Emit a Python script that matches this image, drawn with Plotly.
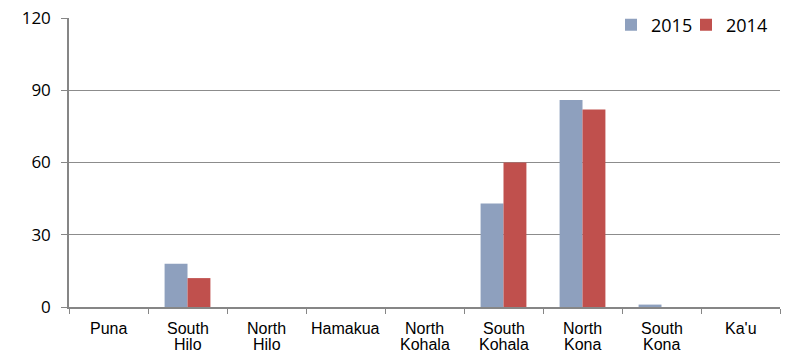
import plotly.graph_objects as go

categories = ["Puna", "South Hilo", "North Hilo", "Hamakua", "North Kohala",
              "South Kohala", "North Kona", "South Kona", "Ka'u"]
values_2015 = [0, 18, 0, 0, 0, 43, 86, 1, 0]
values_2014 = [0, 12, 0, 0, 0, 60, 82, 0, 0]
y_ticks = [0, 30, 60, 90, 120]

fig = go.Figure()
fig.add_trace(go.Bar(x=categories, y=values_2015, name="2015", legend="legend",
                     marker=dict(color="#8EA0BE", line=dict(width=0))))
fig.add_trace(go.Bar(x=categories, y=values_2014, name="2014", legend="legend2",
                     marker=dict(color="#C0504D", line=dict(width=0))))

# category labels, one line per word, with tight (Excel-like) line spacing
for cat in categories:
    for i, word in enumerate(cat.split(" ")):
        fig.add_annotation(x=cat, xref="x", y=0, yref="paper", yanchor="top",
                           yshift=-11 - 16 * i, text=word, showarrow=False,
                           font=dict(family="Liberation Sans", size=16, color="#000"))

legend_style = dict(orientation="h", xanchor="left", y=1.04, yanchor="top",
                    font=dict(family="Open Sans", size=18, color="#000"),
                    itemwidth=30, bgcolor="rgba(0,0,0,0)")

fig.update_layout(
    width=786, height=352,
    margin=dict(l=69, r=6, t=15, b=45),
    plot_bgcolor="white", paper_bgcolor="white",
    barmode="group", bargap=0.42, bargroupgap=0,
    font=dict(family="Liberation Sans, Arial", size=14, color="#000000"),
    showlegend=True,
    legend=dict(x=(611 - 69) / 711, **legend_style),
    legend2=dict(x=(686 - 69) / 711, **legend_style),
    xaxis=dict(showline=True, linecolor="#868686", linewidth=1.5,
               ticks="outside", tickson="boundaries", ticklen=5, tickcolor="#868686",
               showgrid=False, showticklabels=False, automargin=False),
    yaxis=dict(range=[0, 120], tickvals=y_ticks, showline=True, linecolor="#868686",
               linewidth=1.5, ticks="outside", ticklen=6, tickcolor="#868686",
               gridcolor="#8C8C8C", gridwidth=1.3, zeroline=False,
               ticklabelstandoff=7, automargin=False,
               tickfont=dict(family="Open Sans", size=17)),
)

fig.write_html("out.html")
